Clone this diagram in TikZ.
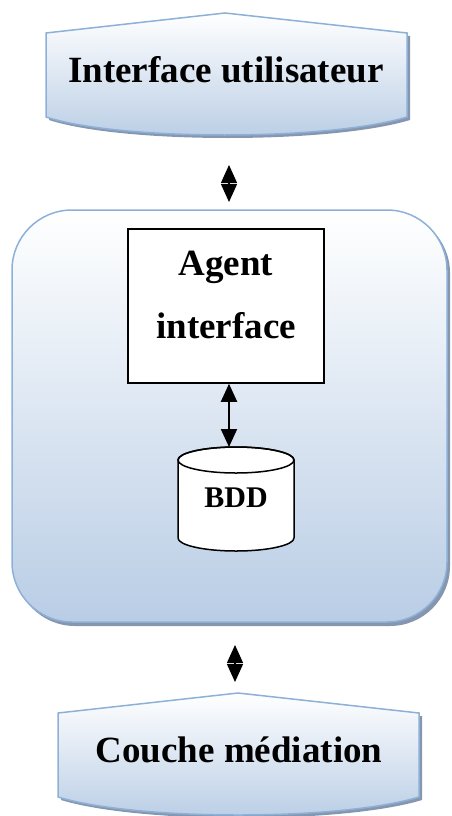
\documentclass[tikz,border=0pt]{standalone}
\usepackage{fontspec}
\setmainfont{Liberation Serif}
\usetikzlibrary{arrows.meta}
\definecolor{bordblue}{RGB}{140,176,216}
\definecolor{fillblue}{RGB}{185,205,229}
\definecolor{shadowgray}{RGB}{135,150,175}
\begin{document}
\begin{tikzpicture}[x=1pt,y=-1pt,
    layer/.style={draw=bordblue,line width=1.5pt,top color=white,bottom color=fillblue},
    layershadow/.style={fill=shadowgray},
    twoway/.style={{Triangle[length=18pt,width=16pt]}-{Triangle[length=18pt,width=16pt]},line width=1.3pt},
    big/.style={font=\fontsize{37}{63}\selectfont\bfseries}]
    \useasboundingbox (0,0) rectangle (452,816);
    % interface utilisateur
    \fill[layershadow] (49,36) -- (410,36) -- (410,120) .. controls (331,144) and (123,144) .. (49,120) -- cycle;
    \draw[layer] (46,33) -- (225,13) -- (407,33) -- (407,117) .. controls (328,141) and (120,141) .. (46,117) -- cycle;
    \node[big,anchor=base] (ui) at (226,82) {Interface utilisateur};
    % agent layer
    \fill[layershadow,rounded corners=60pt] (15,213) rectangle (450,626);
    \draw[layer,rounded corners=60pt] (12,210) rectangle (447,622);
    \node[draw,fill=white,line width=1.5pt,minimum width=196pt,minimum height=154pt] (agent) at (226,306) {};
    \node[big,anchor=base] (agenttop) at (226,275) {Agent};
    \node[big,anchor=base] (agentbot) at (226,338) {interface};
    % BDD cylinder
    \draw[fill=white,line width=1.5pt] (178,460) -- (178,538) arc[start angle=180,end angle=0,x radius=58,y radius=13]
        -- (294,460) arc[start angle=0,end angle=-180,x radius=58,y radius=13] -- cycle;
    \draw[line width=1.5pt] (236,460) ellipse[x radius=58,y radius=13];
    \coordinate (bddtop) at (236,447);
    \node[font=\fontsize{30}{36}\selectfont\bfseries,anchor=base] (bdd) at (236,507) {BDD};
    \draw[twoway,line width=2pt] ([xshift=3pt]agent.south) -- ([xshift=3pt]agent.south |- bddtop);
    % couche mediation
    \fill[layershadow] (61,716) -- (422,716) -- (422,800) .. controls (343,824) and (140,824) .. (61,800) -- cycle;
    \draw[layer] (58,713) -- (238,693) -- (419,713) -- (419,797) .. controls (340,821) and (137,821) .. (58,797) -- cycle;
    \node[big,anchor=base] (cm) at (239,762) {Couche médiation};
    % links between layers
    \coordinate (ua) at (229,165);
    \coordinate (ub) at (229,202);
    \coordinate (ma) at (235,645);
    \coordinate (mb) at (235,682);
    \draw[twoway] (ua) -- (ub);
    \draw[twoway] (ma) -- (mb);
\end{tikzpicture}
\end{document}
